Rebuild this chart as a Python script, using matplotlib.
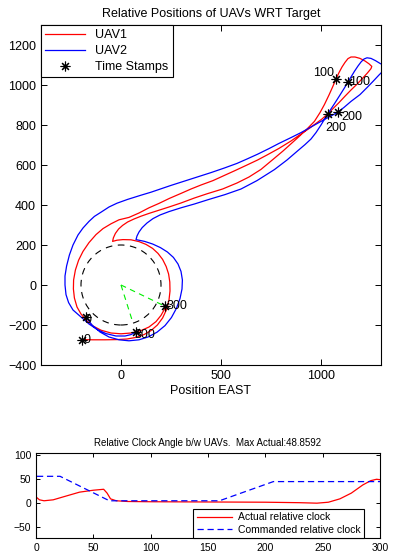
import numpy as np
import matplotlib
matplotlib.use("Agg")
import matplotlib.pyplot as plt
from matplotlib.patches import Circle

plt.rcParams['font.family'] = ['Liberation Sans', 'DejaVu Sans']

# UAV1 (red) path, east / north
uav1_east = [-195, -140, -80, -20, 30, 75, 115, 150, 182, 208, 228, 240, 245, 244, 238, 226, 208, 185, 158, 125, 90, 50, 10, -20, -42,
             -38, -28, -12, 8, 33, 65, 100, 140, 190, 240, 300, 367, 430, 508, 580, 640, 700, 760, 810, 850, 890, 930, 967, 995, 1017,
             1040, 1058, 1075, 1090, 1105, 1120, 1135, 1150, 1170, 1195, 1220, 1240, 1254, 1250, 1232, 1210, 1180, 1150, 1120, 1090,
             1058, 1033, 1005, 975, 940, 900, 850, 790, 730, 683, 630, 570, 517, 460, 400, 350, 300, 242, 190, 140, 90, 40, -10, -50,
             -90, -125, -160, -190, -212, -228, -237, -238, -233, -220, -200, -175, -140, -100, -50, 0, 50, 100, 140, 175, 200, 215, 222]
uav1_north = [-273, -274, -274, -273, -270, -262, -248, -228, -200, -165, -122, -75, -30, 15, 55, 92, 128, 158, 183, 203, 217, 226, 227, 224, 218,
              236, 258, 280, 298, 315, 330, 344, 358, 374, 390, 410, 435, 456, 480, 510, 540, 578, 628, 670, 706, 742, 780, 818, 862, 902,
              950, 990, 1030, 1062, 1090, 1113, 1132, 1140, 1140, 1133, 1120, 1106, 1093, 1082, 1060, 1036, 1004, 975, 944, 912,
              880, 855, 830, 808, 782, 755, 720, 683, 650, 625, 600, 572, 548, 522, 500, 480, 458, 433, 408, 386, 360, 338, 326, 306,
              282, 252, 212, 168, 124, 75, 25, -20, -65, -110, -145, -175, -205, -226, -240, -244, -240, -228, -210, -183, -152, -125, -107]

# UAV2 (blue) path
uav2_east = [-175, -145, -105, -60, -10, 40, 90, 135, 180, 220, 252, 277, 295, 305, 307, 300, 285, 262, 232, 197, 158, 118, 75,
             80, 90, 106, 130, 160, 195, 240, 300, 367, 440, 520, 600, 680, 767, 830, 880, 920, 950, 975, 1000, 1030, 1067, 1095,
             1117, 1133, 1150, 1167, 1185, 1200, 1215, 1230, 1250, 1272, 1295, 1330, 1320, 1290, 1260, 1233, 1195, 1150, 1115, 1083,
             1040, 1000, 950, 900, 850, 790, 740, 683, 630, 580, 517, 450, 400, 350, 300, 250, 200, 150, 100, 33, -20, -60, -100,
             -133, -160, -190, -215, -240, -258, -272, -280, -280, -275, -262, -240, -200, -160, -120, -75, -25, 20, 50, 75]
uav2_north = [-160, -200, -235, -260, -274, -279, -274, -260, -236, -203, -163, -117, -68, -20, 25, 68, 105, 138, 165, 187, 205, 218, 227,
              245, 265, 287, 310, 332, 350, 367, 386, 405, 428, 452, 480, 522, 577, 625, 668, 702, 730, 762, 800, 850, 906, 950,
              985, 1013, 1040, 1068, 1095, 1115, 1130, 1136, 1133, 1122, 1108, 1090, 1080, 1050, 1018, 990, 952, 918, 888, 863,
              840, 818, 790, 762, 737, 708, 682, 654, 630, 608, 585, 562, 546, 530, 514, 498, 481, 464, 449, 428, 409, 390, 364,
              343, 318, 285, 250, 200, 150, 95, 45, 0, -48, -88, -125, -160, -195, -222, -243, -255, -255, -248, -235]

# time stamps at t = 0, 100, 200, 300
stamp_labels = ['0', '100', '200', '300']
uav1_stamp_e = [-195, 1075, 1033, 222]
uav1_stamp_n = [-273, 1030, 855, -107]
uav2_stamp_e = [-175, 1133, 1083, 75]
uav2_stamp_n = [-160, 1013, 863, -235]

# clock angle plot
t_actual = [0, 3, 7, 15, 25, 38, 50, 59, 62, 65, 70, 80, 100, 150, 200, 230, 245, 255, 265, 275, 285, 292, 297, 300]
clock_actual = [12, 6, 4, 6, 13, 22, 26, 28, 20, 8, 4, 2.5, 2, 1.5, 1, 0, -1, 1, 8, 20, 37, 46, 48.86, 48]
t_cmd = [0, 0.5, 21, 64, 160, 207, 300]
clock_cmd = [75, 55, 55, 4, 4, 44, 44]

fig = plt.figure(figsize=(3.93, 5.56), dpi=100)

# MATLAB style asterisk
ast = (8, 2, 0)

ax = fig.add_axes([41/393, (556-365)/556, 340/393, 340/556])
ax.plot(uav1_east, uav1_north, color='red', lw=0.9, label='UAV1')
ax.plot(uav2_east, uav2_north, color='blue', lw=0.9, label='UAV2')
ax.plot(uav1_stamp_e + uav2_stamp_e, uav1_stamp_n + uav2_stamp_n, marker=ast, color='black',
        ms=7, mew=0.8, ls='none', label='Time Stamps')
ax.add_patch(Circle((0, 0), 200, fill=False, ls=(0, (6, 5)), color='black', lw=0.8))
ax.plot([0, uav1_stamp_e[3]], [0, uav1_stamp_n[3]], color='#00ee00', ls=(0, (5, 4)), lw=0.8)
ax.plot([0, 60], [0, -190], color='#00ee00', ls=(0, (5, 4)), lw=0.8)

# labels next to the stamps
lab_pos1 = [(-188, -273), (958, 1060), (1020, 783), (228, -107)]
lab_pos2 = [(-183, -173), (1140, 1013), (1103, 842), (67, -248)]
for lab, p in zip(stamp_labels, lab_pos1):
    ax.text(p[0], p[1], lab, fontsize=9, va='center', ha='left')
for lab, p in zip(stamp_labels, lab_pos2):
    ax.text(p[0], p[1], lab, fontsize=9, va='center', ha='left')

ax.set_xlim(-400, 1300)
ax.set_ylim(-400, 1300)
ax.set_xticks([0, 500, 1000])
ax.set_yticks(range(-400, 1201, 200))
ax.tick_params(direction='in', top=True, right=True, labelsize=9, length=4, width=0.7)
ax.set_title('Relative Positions of UAVs WRT Target', fontsize=9, pad=6)
ax.set_xlabel('Position EAST', fontsize=9, labelpad=2)
leg = ax.legend(loc='upper left', borderaxespad=0, fontsize=9, handlelength=3.2,
                fancybox=False, edgecolor='black', framealpha=1,
                borderpad=0.35, labelspacing=0.3, handletextpad=0.8)
leg.get_frame().set_linewidth(0.8)

ax2 = fig.add_axes([36/393, (556-537.7)/556, 344/393, 84.4/556])
ax2.plot(t_actual, clock_actual, color='red', lw=0.9, label='Actual relative clock')
ax2.plot(t_cmd, clock_cmd, color='blue', lw=0.9, ls=(0, (5, 3)), label='Commanded relative clock')
ax2.set_xlim(0, 300)
ax2.set_ylim(-73, 103)
ax2.set_xticks(range(0, 301, 50))
ax2.set_yticks([-50, 0, 50, 100])
ax2.tick_params(direction='in', top=True, right=True, labelsize=7.5, length=3, width=0.7)
ax2.set_title('Relative Clock Angle b/w UAVs.  Max Actual:48.8592', fontsize=7, pad=5)
leg2 = ax2.legend(loc='lower right', bbox_to_anchor=((364-36)/344, 0), borderaxespad=0, fontsize=7.5,
                  handlelength=3.4, fancybox=False, edgecolor='black', framealpha=1,
                  borderpad=0.3, labelspacing=0.2, handletextpad=0.6)
leg2.get_frame().set_linewidth(0.8)

fig.savefig('out.png', dpi=100)
